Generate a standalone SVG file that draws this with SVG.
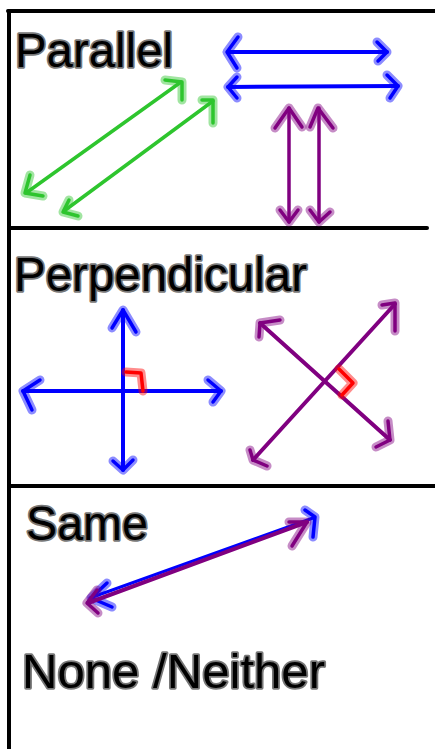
<svg xmlns="http://www.w3.org/2000/svg" width="435" height="749" viewBox="0 0 435 749">
<style>
.frame{stroke:#000;stroke-width:4;fill:none;stroke-linecap:round}
.lbl{font-family:"Liberation Sans",Arial,sans-serif;font-size:48px;fill:#000;stroke:#777;stroke-width:3.5;stroke-linejoin:round;paint-order:stroke}
.ln{fill:none;stroke-linecap:round;stroke-linejoin:round}
.halo{fill:none;stroke-linecap:round;stroke-linejoin:round;stroke-width:9;stroke-opacity:0.45}
.head{fill:none;stroke-linecap:round;stroke-linejoin:round;stroke-width:3.5}
.g{stroke:#2ec52e}
.b{stroke:#0000ff}
.p{stroke:#800080}
.r{stroke:#ff0000}
</style>
<rect width="435" height="749" fill="#fff"/>
<g id="frame">
<line class="frame" x1="8" y1="11" x2="435" y2="11"/>
<line class="frame" x1="9" y1="11" x2="9" y2="749"/>
<line class="frame" x1="9" y1="228" x2="427" y2="228"/>
<line class="frame" x1="9" y1="486" x2="435" y2="486"/>
</g>
<g id="labels">
<text id="lbl-parallel" class="lbl" x="15" y="67" font-size="53" textLength="158" lengthAdjust="spacingAndGlyphs">Parallel</text>
<text id="lbl-perpendicular" class="lbl" x="14" y="291" font-size="52" textLength="293" lengthAdjust="spacingAndGlyphs">Perpendicular</text>
<text id="lbl-same" class="lbl" x="26" y="540" font-size="50" textLength="122" lengthAdjust="spacingAndGlyphs">Same</text>
<text id="lbl-none" class="lbl" x="22" y="688" font-size="53" textLength="303" lengthAdjust="spacingAndGlyphs">None /Neither</text>
</g>
<g id="connectors">
<g id="green-1">
<line class="ln g" stroke-width="3.5" x1="26" y1="193" x2="181" y2="82"/>
<polyline class="halo g" points="165,80 182,82 182,100"/><polyline class="head g" points="165,80 182,82 182,100"/>
<polyline class="halo g" points="30,175 25,193 43,196"/><polyline class="head g" points="30,175 25,193 43,196"/>
</g>
<g id="green-2">
<line class="ln g" stroke-width="3.5" x1="64" y1="211" x2="213" y2="101"/>
<polyline class="halo g" points="202,100 213,100 213,123"/><polyline class="head g" points="202,100 213,100 213,123"/>
<polyline class="halo g" points="69,200 63,212 78,216"/><polyline class="head g" points="69,200 63,212 78,216"/>
</g>
<g id="blue-1">
<line class="ln b" stroke-width="4" x1="228" y1="52" x2="387" y2="52"/>
<polyline class="halo b" points="238,37 227,52 237,68"/><polyline class="head b" points="238,37 227,52 237,68"/>
<polyline class="halo b" points="377,42 387,52 378,61"/><polyline class="head b" points="377,42 387,52 378,61"/>
</g>
<g id="blue-2">
<line class="ln b" stroke-width="4" x1="228" y1="87" x2="398" y2="86"/>
<polyline class="halo b" points="237,77 228,87 237,98"/><polyline class="head b" points="237,77 228,87 237,98"/>
<polyline class="halo b" points="387,75 398,86 390,98"/><polyline class="head b" points="387,75 398,86 390,98"/>
</g>
<g id="purple-1">
<line class="ln p" stroke-width="3.5" x1="289" y1="108" x2="289" y2="222"/>
<polyline class="halo p" points="275,128 289,108 302,127"/><polyline class="head p" points="275,128 289,108 302,127"/>
<polyline class="halo p" points="280,210 289,222 298,210"/><polyline class="head p" points="280,210 289,222 298,210"/>
</g>
<g id="purple-2">
<line class="ln p" stroke-width="3.5" x1="319" y1="108" x2="319" y2="222"/>
<polyline class="halo p" points="310,127 318,108 333,128"/><polyline class="head p" points="310,127 318,108 333,128"/>
<polyline class="halo p" points="310,210 319,222 330,212"/><polyline class="head p" points="310,210 319,222 330,212"/>
</g>
<g id="blue-cross">
<line class="ln b" stroke-width="4" x1="123" y1="310" x2="123" y2="470"/>
<line class="ln b" stroke-width="4" x1="23" y1="391" x2="221" y2="391"/>
<polyline class="halo b" points="112,328 123,310 136,332"/><polyline class="head b" points="112,328 123,310 136,332"/>
<polyline class="halo b" points="113,461 123,470 133,460"/><polyline class="head b" points="113,461 123,470 133,460"/>
<polyline class="halo b" points="40,380 23,391 32,410"/><polyline class="head b" points="40,380 23,391 32,410"/>
<polyline class="halo b" points="208,380 221,391 213,402"/><polyline class="head b" points="208,380 221,391 213,402"/>
<polyline class="halo r" stroke-width="7" points="126,372 141,373 143,391"/><polyline class="head r" points="126,372 141,373 143,391"/>
</g>
<g id="purple-x">
<line class="ln p" stroke-width="4" x1="260" y1="323" x2="390" y2="440"/>
<line class="ln p" stroke-width="4" x1="253" y1="460" x2="395" y2="304"/>
<polyline class="halo p" points="280,320 260,323 259,337"/><polyline class="head p" points="280,320 260,323 259,337"/>
<polyline class="halo p" points="388,421 390,440 376,447"/><polyline class="head p" points="388,421 390,440 376,447"/>
<polyline class="halo p" points="382,305 395,303 395,331"/><polyline class="head p" points="382,305 395,303 395,331"/>
<polyline class="halo p" points="250,450 253,460 267,466"/><polyline class="head p" points="250,450 253,460 267,466"/>
<polyline class="halo r" stroke-width="7" points="339,369 353,383 342,395"/><polyline class="head r" points="339,369 353,383 342,395"/>
</g>
<g id="same-lines">
<line class="ln b" stroke-width="3" x1="90" y1="598" x2="313" y2="518"/>
<polyline class="halo b" points="305,510 315,517 313,537"/><polyline class="head b" points="305,510 315,517 313,537"/>
<polyline class="halo b" points="107,583 91,598 112,607"/><polyline class="head b" points="107,583 91,598 112,607"/>
<line class="ln p" stroke-width="4" x1="88" y1="603" x2="307" y2="522"/>
<polyline class="halo p" points="289,522 307,522 292,546"/><polyline class="head p" points="289,522 307,522 292,546"/>
<polyline class="halo p" points="97,590 87,603 98,613"/><polyline class="head p" points="97,590 87,603 98,613"/>
</g>
</g>
</svg>
